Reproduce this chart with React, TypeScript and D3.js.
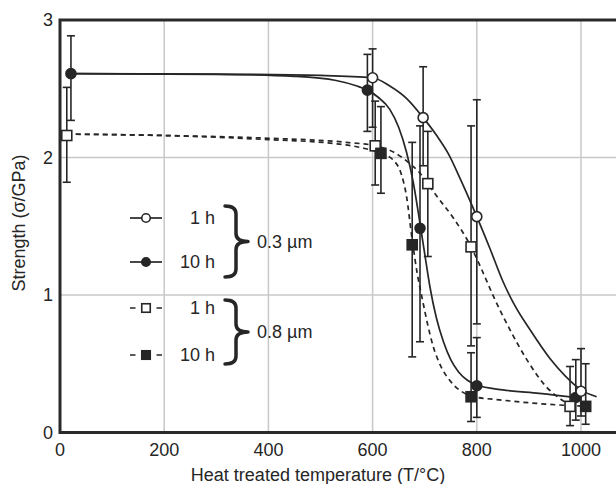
import React from "react";
import * as d3 from "d3";

// ---- data ----
// 0.3 µm, 1 h (open circles, solid line)
const a_T = [600, 697, 800, 1000];
const a_S = [2.58, 2.29, 1.57, 0.3];
const a_hi = [2.79, 2.66, 2.42, 0.61];
const a_lo = [2.22, 1.94, 0.79, 0.12];
// 0.3 µm, 10 h (filled circles, solid line)
const b_T = [21, 590, 691, 800, 990];
const b_S = [2.61, 2.49, 1.485, 0.34, 0.255];
const b_hi = [2.885, 2.75, 2.23, 0.69, 0.53];
const b_lo = [2.27, 2.19, 0.66, 0.11, 0.09];
// 0.8 µm, 1 h (open squares, dashed line)
const c_T = [13, 605, 706, 789, 979];
const c_S = [2.16, 2.085, 1.81, 1.35, 0.19];
const c_hi = [2.51, 2.41, 2.19, 2.23, 0.48];
const c_lo = [1.82, 1.8, 1.28, 0.63, 0.05];
// 0.8 µm, 10 h (filled squares, dashed line)
const d_T = [616, 676, 789, 1009];
const d_S = [2.03, 1.365, 0.26, 0.19];
const d_hi = [2.37, 2.11, 0.58, 0.5];
const d_lo = [1.74, 0.55, 0.08, 0.06];

// fitted curves
const fitA_T = [21, 300, 500, 600, 633, 665, 697, 723, 745, 770, 800, 825, 850, 875, 900, 940, 970, 1000, 1030];
const fitA_S = [2.61, 2.607, 2.597, 2.58, 2.52, 2.43, 2.29, 2.16, 2.03, 1.83, 1.57, 1.34, 1.1, 0.91, 0.76, 0.54, 0.41, 0.31, 0.26];
const fitB_T = [21, 300, 450, 530, 570, 590, 610, 633, 650, 665, 678, 691, 700, 710, 722, 736, 750, 765, 782, 800, 850, 920, 1000];
const fitB_S = [2.61, 2.605, 2.59, 2.56, 2.52, 2.49, 2.44, 2.35, 2.22, 2.04, 1.82, 1.52, 1.3, 1.06, 0.84, 0.66, 0.53, 0.44, 0.38, 0.345, 0.31, 0.285, 0.25];
const fitC_T = [13, 200, 400, 550, 605, 640, 670, 690, 706, 723, 755, 789, 810, 832, 864, 896, 934, 966, 979];
const fitC_S = [2.17, 2.16, 2.14, 2.11, 2.085, 2.04, 1.96, 1.89, 1.81, 1.72, 1.56, 1.35, 1.18, 0.99, 0.745, 0.53, 0.33, 0.23, 0.2];
const fitD_T = [13, 200, 400, 530, 580, 616, 640, 655, 665, 676, 686, 696, 706, 716, 730, 750, 770, 790, 850, 920, 1009];
const fitD_S = [2.17, 2.16, 2.13, 2.1, 2.07, 2.03, 1.98, 1.88, 1.72, 1.4, 1.15, 0.96, 0.78, 0.63, 0.49, 0.37, 0.3, 0.265, 0.235, 0.21, 0.19];

const xTicks = [0, 200, 400, 600, 800, 1000];
const yTicks = [0, 1, 2, 3];
const xGrid = [200, 400, 600, 800, 1000];
const yGrid = [1, 2];
const legendHours = ["1 h", "10 h", "1 h", "10 h"];
const legendSizes = ["0.3 µm", "0.8 µm"];
const xTitle = "Heat treated temperature (T/°C)";
const yTitle = "Strength (σ/GPa)";

const W = 616;
const H = 484;
const FONT = "'Liberation Sans', Arial, sans-serif";
const INK = "#262626";

export default function App() {
  const x = d3.scaleLinear().domain([0, 1000]).range([60, 581]);
  const y = d3.scaleLinear().domain([0, 3]).range([432.5, 20]);
  const line = d3
    .line<[number, number]>()
    .x((d) => x(d[0]))
    .y((d) => y(d[1]))
    .curve(d3.curveMonotoneX);
  const zip = (t: number[], s: number[]) => t.map((v, i) => [v, s[i]] as [number, number]);

  const series = [
    { T: b_T, S: b_S, hi: b_hi, lo: b_lo, kind: "circle", filled: true },
    { T: a_T, S: a_S, hi: a_hi, lo: a_lo, kind: "circle", filled: false },
    { T: c_T, S: c_S, hi: c_hi, lo: c_lo, kind: "square", filled: false },
    { T: d_T, S: d_S, hi: d_hi, lo: d_lo, kind: "square", filled: true },
  ];
  const fits = [
    { p: zip(fitA_T, fitA_S), dash: null },
    { p: zip(fitB_T, fitB_S), dash: null },
    { p: zip(fitC_T, fitC_S), dash: "5 4" },
    { p: zip(fitD_T, fitD_S), dash: "5 4" },
  ];

  const marker = (kind: string, filled: boolean, cx: number, cy: number, key: string, s = 1) =>
    kind === "circle" ? (
      <circle key={key} cx={cx} cy={cy} r={5 * s} fill={filled ? INK : "#fff"} stroke={INK} strokeWidth={1.6} />
    ) : (
      <rect key={key} x={cx - 5 * s} y={cy - 5 * s} width={10 * s} height={10 * s} fill={filled ? INK : "#fff"} stroke={INK} strokeWidth={1.6} />
    );

  const brace = (xl: number, yt: number, yb: number) => {
    const xm = xl + 11;
    const xt = xl + 23;
    const ym = (yt + yb) / 2;
    const r = 8;
    return `M${xl},${yt} Q${xm},${yt} ${xm},${yt + r} L${xm},${ym - r} Q${xm},${ym} ${xt},${ym} Q${xm},${ym} ${xm},${ym + r} L${xm},${yb - r} Q${xm},${yb} ${xl},${yb}`;
  };

  const rowsY = [218, 262, 308, 355];
  const legKinds = [
    { kind: "circle", filled: false, dash: false },
    { kind: "circle", filled: true, dash: false },
    { kind: "square", filled: false, dash: true },
    { kind: "square", filled: true, dash: true },
  ];

  return (
    <svg width={W} height={H} style={{ position: "absolute", left: 0, top: 0, background: "#fff" }} fontFamily={FONT}>
      <rect x={0} y={0} width={W} height={H} fill="#fff" />
      {/* grid */}
      {xGrid.map((v) => (
        <line key={"gx" + v} x1={x(v)} x2={x(v)} y1={y(3)} y2={y(0)} stroke="#c8c8c8" strokeWidth={1.5} />
      ))}
      {yGrid.map((v) => (
        <line key={"gy" + v} x1={x(0)} x2={W} y1={y(v)} y2={y(v)} stroke="#c8c8c8" strokeWidth={1.5} />
      ))}
      {/* fitted curves */}
      {fits.map((f, i) => (
        <path key={"f" + i} d={line(f.p) || ""} fill="none" stroke={INK} strokeWidth={1.7} strokeDasharray={f.dash || undefined} />
      ))}
      {/* error bars */}
      {series.map((s, si) =>
        s.T.map((t, i) => (
          <g key={`e${si}-${i}`} stroke={INK} strokeWidth={1.6}>
            <line x1={x(t)} x2={x(t)} y1={y(s.hi[i])} y2={y(s.lo[i])} />
            <line x1={x(t) - 4} x2={x(t) + 4} y1={y(s.hi[i])} y2={y(s.hi[i])} />
            <line x1={x(t) - 4} x2={x(t) + 4} y1={y(s.lo[i])} y2={y(s.lo[i])} />
          </g>
        ))
      )}
      {/* markers */}
      {series.map((s, si) => s.T.map((t, i) => marker(s.kind, s.filled, x(t), y(s.S[i]), `m${si}-${i}`)))}
      {/* frame */}
      <path d={`M${W + 5},${y(3)} L${x(0)},${y(3)} L${x(0)},${y(0)} L${W + 5},${y(0)}`} fill="none" stroke="#2a2a2a" strokeWidth={3} />
      {/* ticks labels */}
      {yTicks.map((v) => (
        <text key={"yt" + v} x={53} y={y(v)} textAnchor="end" dominantBaseline="central" fontSize={18} fill={INK}>
          {v}
        </text>
      ))}
      {xTicks.map((v) => (
        <text key={"xt" + v} x={x(v)} y={450} textAnchor="middle" dominantBaseline="central" fontSize={18} fill={INK}>
          {v}
        </text>
      ))}
      <text x={318} y={475} textAnchor="middle" dominantBaseline="central" fontSize={18} fill={INK}>
        {xTitle}
      </text>
      <text transform={`translate(19,223) rotate(-90)`} textAnchor="middle" dominantBaseline="central" fontSize={18} fill={INK}>
        {yTitle}
      </text>
      {/* legend */}
      {legKinds.map((k, i) => (
        <g key={"lg" + i}>
          <line x1={130} x2={162} y1={rowsY[i]} y2={rowsY[i]} stroke={INK} strokeWidth={1.7} strokeDasharray={k.dash ? "5.5 21 5.5" : undefined} />
          {marker(k.kind, k.filled, 146, rowsY[i], "lm" + i, 0.85)}
          <text x={215} y={rowsY[i]} textAnchor="end" dominantBaseline="central" fontSize={18} fill={INK}>
            {legendHours[i]}
          </text>
        </g>
      ))}
      <path d={brace(225, 206, 277)} fill="none" stroke={INK} strokeWidth={3.5} strokeLinecap="round" strokeLinejoin="round" />
      <path d={brace(225, 300, 364)} fill="none" stroke={INK} strokeWidth={3.5} strokeLinecap="round" strokeLinejoin="round" />
      <text x={257} y={241.5} dominantBaseline="central" fontSize={18} fill={INK}>
        {legendSizes[0]}
      </text>
      <text x={257} y={332} dominantBaseline="central" fontSize={18} fill={INK}>
        {legendSizes[1]}
      </text>
    </svg>
  );
}
